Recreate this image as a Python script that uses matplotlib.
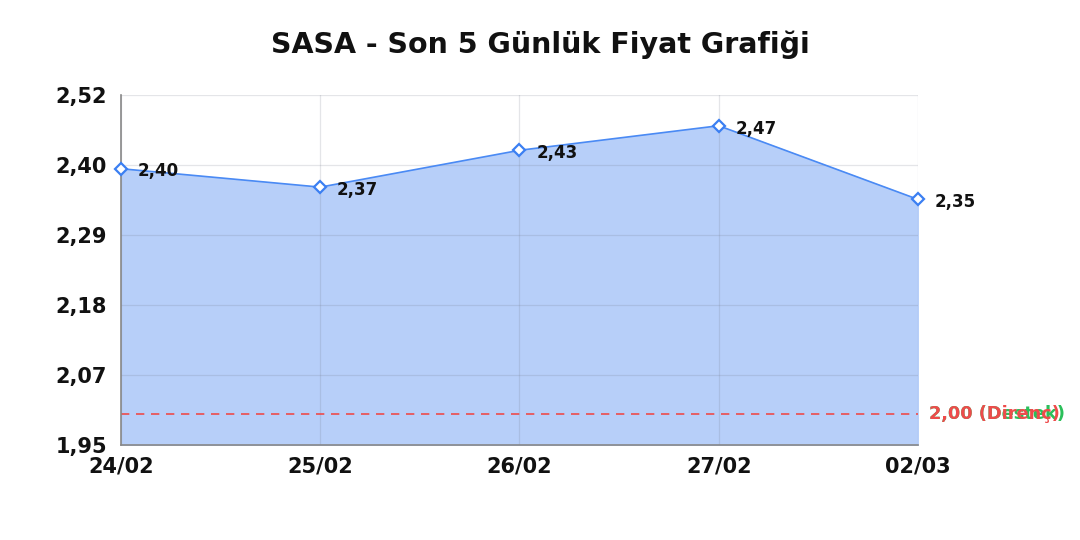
import matplotlib
matplotlib.use("Agg")
import matplotlib.pyplot as plt

plt.rcParams["font.family"] = ["DejaVu Sans"]

dates = ["24/02", "25/02", "26/02", "27/02", "02/03"]
prices = [2.40, 2.37, 2.43, 2.47, 2.35]
price_labels = ["2,40", "2,37", "2,43", "2,47", "2,35"]
y_ticks = [1.95, 2.064, 2.178, 2.292, 2.406, 2.52]
y_tick_labels = ["1,95", "2,07", "2,18", "2,29", "2,40", "2,52"]
support = 2.00
resistance = 2.00
title = "SASA - Son 5 Günlük Fiyat Grafiği"

fig = plt.figure(figsize=(10.8, 5.4), dpi=100)
ax = fig.add_axes([0.112, 0.176, 0.738, 0.648])
x = list(range(len(dates)))
ymin, ymax = 1.95, 2.52

ax.fill_between(x, prices, ymin, color="#b7cff9", zorder=1)
ax.grid(True, color="#6e7380", alpha=0.18, lw=0.9, zorder=1.5)
ax.plot(x, prices, color="#4a8af4", lw=1.2, zorder=3)
ax.plot(x, prices, ls="none", marker="D", ms=6, mfc="white", mec="#3b7ff2",
        mew=1.6, zorder=4, clip_on=False)
for xi, p, lab in zip(x, prices, price_labels):
    ax.annotate(lab, (xi, p), xytext=(12, -2), textcoords="offset points",
                fontsize=12, fontweight="bold", color="#111111",
                va="center", ha="left", zorder=5, annotation_clip=False)

ax.axhline(resistance, color="#ee4b4b", ls=(0, (5, 4)), lw=1.2, zorder=2)
ax.text(1.014, support, "2,00 (Destek)", transform=ax.get_yaxis_transform(),
        color="#2bbf5a", fontsize=12.8, fontweight="bold", va="center", ha="left")
ax.text(1.014, resistance, "2,00 (Direnç)", transform=ax.get_yaxis_transform(),
        color="#ee4b4b", fontsize=12.8, fontweight="bold", va="center", ha="left")

ax.set_xlim(0, len(dates) - 1)
ax.set_ylim(ymin, ymax)
ax.set_xticks(x)
ax.set_xticklabels(dates, fontsize=15, fontweight="bold", color="#111111")
ax.set_yticks(y_ticks)
ax.set_yticklabels(y_tick_labels, fontsize=15, fontweight="bold", color="#111111")
ax.tick_params(length=0)
ax.tick_params(axis="y", pad=10)
ax.tick_params(axis="x", pad=8)
for s in ["top", "right"]:
    ax.spines[s].set_visible(False)
for s in ["left", "bottom"]:
    ax.spines[s].set_color("#888888")
    ax.spines[s].set_linewidth(1.2)
    ax.spines[s].set_zorder(2.5)

fig.text(0.5, 0.917, title, ha="center", va="center", fontsize=20.5,
         fontweight="bold", color="#111111")

fig.savefig("out.png", dpi=100)
